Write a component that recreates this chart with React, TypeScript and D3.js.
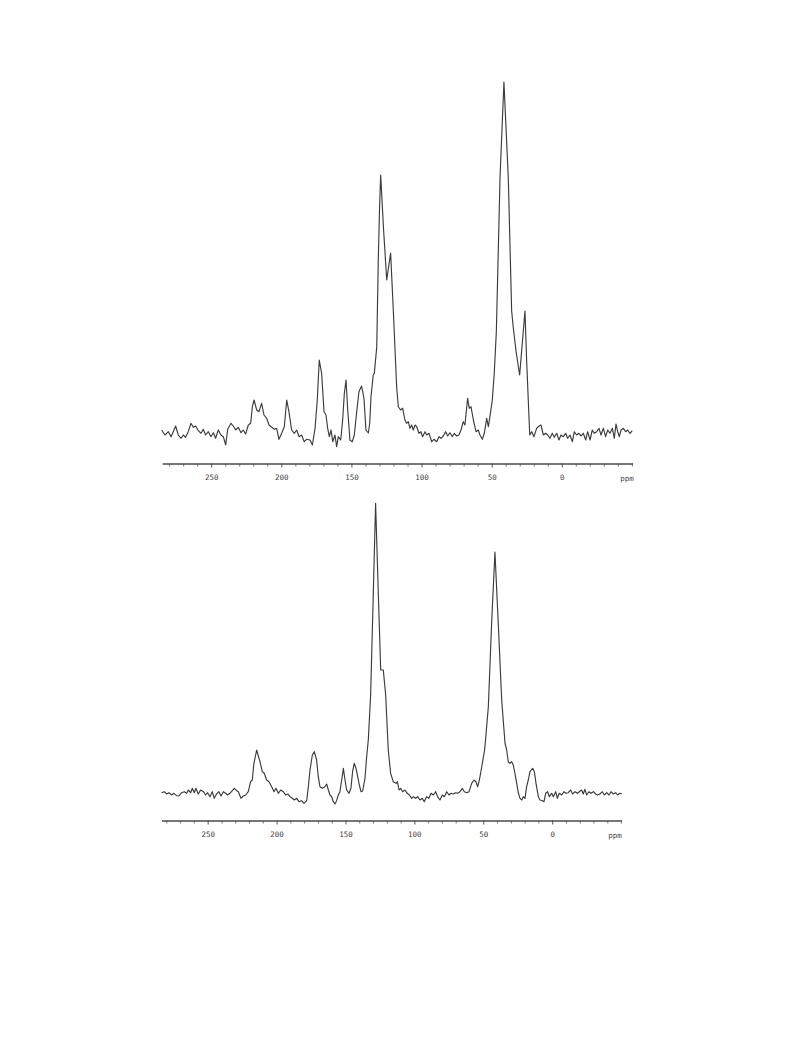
import React from "react";
import * as d3 from "d3";

// Upper spectrum: [chemical shift (ppm), intensity (a.u.)]
const upperSpectrum: [number, number][] = [
  [285.7, 3], [283.3, -2], [280.9, 1.3], [279.0, -3.7], [277.4, 1.3], [275.7, 7], [273.8, -2], [271.9, -5.3],
  [270.2, -2], [268.6, -4.3], [266.7, 1.3], [264.8, 9.7], [263.1, 5.7], [261.4, 7], [259.5, 2.3], [257.6, -0.3],
  [256.0, 3.7], [254.3, -2], [252.4, 1.3], [250.5, -3.7], [248.8, 0.3], [247.2, -5.3], [245.3, 3], [243.4, -2],
  [241.7, -3.7], [240.0, -12], [238.6, 3.7], [236.2, 9.7], [234.6, 7], [232.9, 3], [231.0, 5.7], [229.1, 0.3],
  [227.5, 3], [225.8, -1], [223.9, 8], [222.2, 9.7], [221.0, 26.3], [219.8, 33], [217.9, 23], [216.3, 21.3],
  [214.4, 29.7], [212.7, 18], [210.8, 14.7], [209.1, 8], [207.2, 5.7], [205.3, 3.7], [203.7, 4.7], [202.0, -6.3],
  [200.1, -0.3], [198.2, 6.3], [196.5, 33], [194.9, 21.3], [193.0, 3], [191.1, -0.3], [189.4, 3], [187.7, -3.7],
  [185.9, -2], [184.0, -8.7], [182.3, -6.3], [179.9, -7], [178.2, -12], [176.3, 4.7], [174.7, 33], [173.3, 73],
  [171.6, 59.7], [169.9, 21.3], [168.5, 18], [167.3, 4.7], [166.1, -3.7], [164.9, 3], [163.7, -8.7], [162.1, -2],
  [160.9, -13.7], [159.7, -3.7], [158.0, -7], [156.6, 13], [155.4, 39.7], [154.2, 53], [153.0, 23], [151.4, -7],
  [149.7, -8.7], [148.3, -2], [146.6, 21.3], [145.0, 41.3], [143.1, 47], [141.4, 34.7], [140.0, 3], [138.3, 0],
  [137.3, 10], [136.4, 36.3], [134.8, 58], [134.0, 60], [132.3, 86], [131.2, 173], [130.3, 225], [129.5, 258],
  [127.5, 205], [125.2, 153], [122.4, 180], [120.5, 123], [118.1, 46], [116.9, 26.3], [115.3, 23], [113.8, 24.7],
  [112.2, 13], [111.0, 9.7], [109.8, 11.3], [108.6, 4.7], [107.4, 8], [106.2, 3], [105.0, 8], [103.8, 6.3],
  [102.2, -0.3], [100.8, 1.3], [99.6, -3.7], [97.9, 1.3], [96.7, -2], [95.1, -0.3], [93.1, -8.7], [91.5, -6.3],
  [89.6, -8.7], [87.9, -3.7], [86.5, -5.3], [84.8, -3], [83.2, 1.3], [81.7, -3], [80.1, 0.3], [78.4, -3.7],
  [77.0, -0.3], [75.3, -3], [73.7, -2], [72.2, 3], [70.6, 11.3], [69.4, 8], [67.5, 34.7], [66.3, 24.7],
  [65.1, 26.3], [63.4, 13], [61.5, 1.3], [59.9, 3], [58.7, -2], [57.0, -6.3], [55.6, -0.3], [53.9, 14.7],
  [52.7, 6.3], [51.6, 16.3], [49.9, 33], [48.5, 59.7], [47.0, 102], [44.4, 255], [41.6, 351], [38.5, 255],
  [36.1, 122], [34.9, 105], [32.8, 80], [30.4, 58], [26.6, 122], [25.4, 72], [23.8, 18], [23.2, -2],
  [21.8, 1.3], [20.2, -3.7], [18.3, 4.7], [16.6, 7], [15.2, 8], [13.5, -2], [11.9, -0.3], [10.4, -2],
  [8.8, -5.3], [7.1, -0.3], [5.7, -4.3], [4.0, -0.3], [2.4, -7], [0.9, -2], [-0.7, -3.7], [-2.4, -0.3],
  [-3.8, -5.3], [-5.5, -2], [-7.2, -8.7], [-8.6, 1.3], [-10.2, -2], [-11.9, -0.3], [-13.3, -3], [-15.0, -0.3],
  [-16.7, -7], [-18.1, 1.3], [-19.8, -7], [-21.4, 3], [-22.8, -0.3], [-24.5, 1.3], [-26.2, 4.7], [-27.6, -2],
  [-29.3, 4.7], [-30.9, -3.7], [-32.4, 3], [-34.0, -0.3], [-35.7, 4.7], [-37.1, -5.3], [-38.3, 9], [-39.5, 1.3],
  [-40.7, -3.7], [-41.9, 3], [-43.5, 4.7], [-45.2, 1.3], [-46.6, 3], [-48.3, -0.3], [-49.9, 2.3],
];

// Lower spectrum: [chemical shift (ppm), intensity (a.u.)]
const lowerSpectrum: [number, number][] = [
  [283.8, 2.3], [281.8, 3.3], [280.1, 1], [278.4, 2.3], [276.5, 0], [274.8, 1.7], [272.9, -0.7], [271.2, -1],
  [269.3, 2.3], [267.3, 3.3], [265.6, 1.7], [264.4, 5], [262.7, 2.3], [261.5, 6.7], [260.1, 2.3], [258.9, 6.7],
  [257.2, 1], [255.5, 5], [253.5, 3.3], [251.8, 0], [250.4, 2.3], [248.7, -1.7], [247.0, 3.3], [245.6, -3.3],
  [243.9, 1], [242.2, 3.3], [240.7, -1], [239.0, 3.3], [237.3, 1.7], [235.9, 0], [234.2, 1.7], [232.5, 4.3],
  [231.0, 6.7], [229.3, 4.3], [228.1, 3.3], [226.2, -3.3], [224.5, -1], [222.8, 0], [220.9, 3.3], [219.2, 13.3],
  [218.0, 15], [216.8, 31.7], [214.8, 45], [213.6, 39], [212.4, 33.3], [210.7, 23.3], [209.3, 21.7], [207.6, 15],
  [205.9, 13.3], [203.9, 8.3], [202.2, 3.3], [200.8, 6.7], [199.1, 1.7], [197.4, 5], [195.5, 3.3], [193.8, 0],
  [192.3, 1], [190.6, -1.7], [188.9, -3.3], [187.5, -5], [185.8, -3.3], [184.1, -6.7], [182.2, -5.7], [180.5, -8.3],
  [178.5, -5.7], [177.3, 8.3], [176.1, 25], [174.4, 40], [173.0, 43.3], [171.3, 35], [170.1, 18.3], [168.9, 8.3],
  [167.2, 6.7], [165.7, 7.7], [164.0, 11], [162.8, 5], [161.6, 0], [160.4, -1.7], [159.2, -6.7], [158.0, -9],
  [156.8, -5.7], [155.6, 0], [154.4, 3.3], [153.1, 15], [151.9, 26.7], [150.7, 15], [149.5, 5], [147.8, 1.7],
  [146.4, 6.7], [145.2, 23.3], [144.0, 31.7], [142.7, 26.7], [141.5, 18.3], [140.3, 10], [139.1, 3.3], [137.9, 4],
  [136.2, 16.7], [135.0, 38], [133.8, 55], [132.1, 100], [130.2, 200], [128.5, 291.7], [126.5, 200], [124.8, 125],
  [122.9, 125], [121.2, 100], [119.3, 45], [117.6, 21.7], [115.7, 13.3], [113.7, 11.7], [112.7, 13.3], [111.5, 5],
  [110.3, 6.7], [108.9, 3.3], [107.2, 5], [105.5, 1.7], [104.0, 0], [102.3, -3.3], [101.1, -1.7], [99.4, -3.3],
  [98.0, -1.7], [96.3, -5], [94.6, -3.3], [93.2, -6.7], [91.5, -1.7], [89.8, -3.3], [88.3, 1.7], [86.6, 0],
  [84.9, 3.3], [83.5, -1.7], [81.8, -5], [80.1, 0], [78.6, -1.7], [76.9, 3.3], [75.3, 0], [73.8, 1.7],
  [72.1, 1], [70.4, 2.3], [69.0, 1.7], [67.3, 3.3], [65.6, 6.7], [64.1, 3.3], [62.4, 2.3], [60.7, 3.3],
  [58.8, 11.7], [57.1, 15], [55.7, 13.3], [54.4, 8.3], [53.2, 15], [51.5, 28], [49.3, 46], [46.7, 88],
  [44.3, 172], [41.9, 243], [39.5, 172], [37.0, 95], [34.6, 52], [33.4, 45], [32.2, 33], [31.0, 31.7],
  [29.8, 33.3], [28.6, 30], [27.4, 21.7], [26.1, 11.7], [24.9, 2], [23.7, -3.3], [22.5, -5], [21.3, -1.7],
  [20.1, -3.3], [18.9, 8.3], [17.7, 15], [16.5, 23.3], [14.5, 26.7], [13.3, 23.3], [12.1, 11.7], [10.4, -1.7],
  [9.2, -5], [7.5, -5.7], [6.3, -6.7], [5.1, 1.7], [3.7, 3.3], [2.4, -1.7], [0.7, 1.7], [-0.5, -1.7],
  [-2.2, 3.3], [-3.4, -3.3], [-4.8, 1.7], [-6.5, 0], [-8.2, 3.3], [-9.7, 1.7], [-11.3, 2.3], [-13.0, 5],
  [-14.5, 1], [-16.2, 3.3], [-17.9, 1.7], [-19.3, 3.3], [-21.0, 5], [-22.2, 1], [-23.4, 5.7], [-24.7, 0],
  [-26.3, 3.3], [-27.8, 1.7], [-29.5, 3.3], [-31.2, 1], [-32.6, 0], [-34.3, 1], [-36.0, 3.3], [-37.5, 0],
  [-39.2, 2.3], [-40.9, 0], [-42.3, 3.3], [-44.0, 1], [-45.7, 2.3], [-47.1, 0], [-48.8, 1.7], [-50.1, 1],
];

const majorTicks = [250, 200, 150, 100, 50, 0];
const minorTicks = [280, 270, 260, 240, 230, 220, 210, 190, 180, 170, 160, 140, 130, 120, 110, 90, 80, 70, 60, 40, 30, 20, 10, -10, -20, -30, -40, -50];
const unitLabel = "ppm";

type PanelProps = {
  data: [number, number][];
  xDomain: [number, number];
  xRange: [number, number];
  yDomain: [number, number];
  yRange: [number, number];
  axisY: number;
  unitX: number;
};

function Panel({ data, xDomain, xRange, yDomain, yRange, axisY, unitX }: PanelProps) {
  const x = d3.scaleLinear().domain(xDomain).range(xRange);
  const y = d3.scaleLinear().domain(yDomain).range(yRange);
  const line = d3
    .line<[number, number]>()
    .x((d) => x(d[0]))
    .y((d) => y(d[1]))
    .curve(d3.curveLinear);
  const inDomain = (v: number) => v <= xDomain[0] && v >= xDomain[1];
  return (
    <g>
      <path d={line(data) || ""} fill="none" stroke="#3c3c3c" strokeWidth={1.15} strokeLinejoin="round" />
      <line x1={xRange[0]} x2={xRange[1]} y1={axisY} y2={axisY} stroke="#4a4a4a" strokeWidth={1.4} />
      {minorTicks.filter(inDomain).map((t) => (
        <line key={"m" + t} x1={x(t)} x2={x(t)} y1={axisY - 0.5} y2={axisY + 2.5} stroke="#555" strokeWidth={0.8} />
      ))}
      {majorTicks.map((t) => (
        <g key={"M" + t}>
          <line x1={x(t)} x2={x(t)} y1={axisY - 0.5} y2={axisY + 3.5} stroke="#444" strokeWidth={0.9} />
          <text
            x={x(t)}
            y={axisY + 16}
            textAnchor="middle"
            fontFamily="'DejaVu Sans Mono', 'Liberation Mono', monospace"
            fontSize={7.5}
            fill="#444"
          >
            {t}
          </text>
        </g>
      ))}
      <text
        x={unitX}
        y={axisY + 17}
        textAnchor="middle"
        fontFamily="'DejaVu Sans Mono', 'Liberation Mono', monospace"
        fontSize={7.5}
        fill="#444"
      >
        {unitLabel}
      </text>
    </g>
  );
}

export default function App() {
  return (
    <svg
      width={793}
      height={1057}
      viewBox="0 0 793 1057"
      style={{ position: "absolute", left: 0, top: 0, background: "#ffffff" }}
    >
      <rect x={0} y={0} width={793} height={1057} fill="#ffffff" />
      <Panel
        data={upperSpectrum}
        xDomain={[285, -50.5]}
        xRange={[162.6, 633.1]}
        yDomain={[0, 351]}
        yRange={[433, 82]}
        axisY={464}
        unitX={627}
      />
      <Panel
        data={lowerSpectrum}
        xDomain={[283.5, -50.3]}
        xRange={[162.0, 622.0]}
        yDomain={[0, 291.7]}
        yRange={[795, 503.3]}
        axisY={821}
        unitX={615}
      />
    </svg>
  );
}
